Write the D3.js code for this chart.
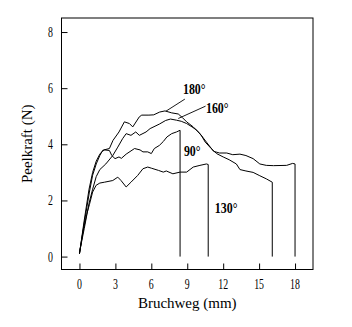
<!DOCTYPE html>
<html><head><meta charset="utf-8">
<script src="https://cdn.jsdelivr.net/npm/d3@7"></script>
<style>body{margin:0;background:#fff}svg{display:block}</style>
</head><body><svg id="c" width="352" height="327"></svg>
<script>
const xTicks = [0,3,6,9,12,15,18];
const yTicks = [0,2,4,6,8];
const xTitle = "Bruchweg (mm)";
const yTitle = "Peelkraft (N)";
const seriesNames = ["180°","160°","90°","130°"];
const s180 = [[0,0.1],[0.4,1.2],[0.83,2.3],[1.1,2.9],[1.4,3.3],[1.7,3.6],[1.95,3.79],[2.5,3.85],[2.8,4.14],[3.3,4.44],[3.75,4.8],[4.17,4.74],[4.45,4.62],[5.0,4.98],[5.2,5.04],[5.8,5.04],[6.2,5.05],[6.7,5.15],[7.14,5.19],[7.7,5.12],[8.25,5.08],[8.6,4.95],[8.95,4.8],[9.5,4.62],[10.06,4.38],[10.6,4.08],[11.2,3.75],[11.7,3.69],[12.3,3.69],[12.8,3.63],[13.4,3.65],[13.9,3.6],[14.5,3.49],[15.06,3.3],[15.6,3.25],[16.2,3.24],[17.3,3.25],[17.8,3.32],[18.0,3.3],[18.0,0]];
const s160 = [[0,0.15],[0.4,1.0],[0.8,1.9],[1.1,2.4],[1.4,2.85],[1.7,3.1],[2.2,3.3],[2.78,3.6],[3.2,3.9],[3.6,4.2],[3.9,4.38],[4.3,4.32],[4.7,4.44],[5.0,4.32],[5.56,4.44],[5.9,4.56],[6.67,4.72],[7.2,4.85],[7.6,4.9],[8.1,4.86],[8.5,4.82],[8.95,4.74],[9.4,4.62],[9.8,4.5],[10.2,4.3],[10.5,4.08],[11.0,3.85],[11.45,3.67],[12.0,3.55],[12.5,3.45],[13.1,3.3],[13.4,3.1],[13.9,3.05],[14.5,3.0],[15.06,2.88],[15.6,2.77],[16.1,2.65],[16.1,0]];
const s90 = [[0,0.1],[0.4,1.3],[0.8,2.4],[1.1,3.0],[1.4,3.4],[1.7,3.65],[1.9,3.75],[2.1,3.8],[2.5,3.78],[2.7,3.6],[2.97,3.49],[3.3,3.55],[3.5,3.5],[3.9,3.65],[4.6,3.85],[5.06,3.8],[5.3,3.73],[5.7,3.73],[6.0,3.67],[6.25,3.85],[6.67,3.96],[7.0,4.1],[7.3,4.26],[7.7,4.38],[8.1,4.44],[8.4,4.5],[8.4,0]];
const s130 = [[0,0.1],[0.3,0.9],[0.6,1.5],[0.83,1.85],[1.1,2.3],[1.39,2.54],[1.7,2.62],[2.08,2.65],[2.78,2.71],[3.2,2.83],[3.47,2.71],[3.9,2.48],[4.3,2.65],[4.86,2.89],[5.3,3.13],[5.7,3.19],[6.0,3.15],[6.6,3.07],[7.0,3.01],[7.25,3.05],[7.8,2.95],[8.4,3.01],[8.95,3.01],[9.5,3.19],[10.06,3.25],[10.6,3.3],[10.75,3.28],[10.75,0]];
const seriesData = [s180, s160, s90, s130];

const svg = d3.select("#c");
const L = 61.5, R = 313, T = 18, B = 269.5;
const x = d3.scaleLinear().domain([-1.5,19.5]).range([L,R]);
const y = d3.scaleLinear().domain([-0.46,8.5]).range([B,T]);

const serif = "'Liberation Serif','Times New Roman',serif";

svg.append("rect").attr("x",L).attr("y",T).attr("width",R-L).attr("height",B-T)
  .attr("fill","none").attr("stroke","#000").attr("stroke-width",1);

const gx = svg.append("g").attr("transform",`translate(0,${B})`)
  .call(d3.axisBottom(x).tickValues(xTicks).tickSize(-6).tickFormat(d=>d));
gx.select(".domain").remove();
gx.selectAll("line").attr("stroke","#000");
gx.selectAll("text").remove();
const gy = svg.append("g").attr("transform",`translate(${L},0)`)
  .call(d3.axisLeft(y).tickValues(yTicks).tickSize(-6).tickFormat(d=>d));
gy.select(".domain").remove();
gy.selectAll("line").attr("stroke","#000");
gy.selectAll("text").remove();

xTicks.forEach(v=>{
  svg.append("text").attr("transform",`translate(${x(v)},288.5) scale(0.68,1)`)
    .attr("text-anchor","middle").attr("font-family",serif).attr("font-size",14.5).text(v);
});
yTicks.forEach(v=>{
  svg.append("text").attr("transform",`translate(53,${y(v)+5}) scale(0.68,1)`)
    .attr("text-anchor","end").attr("font-family",serif).attr("font-size",14.5).text(v);
});

svg.append("text").attr("x",(L+R)/2).attr("y",307.5).attr("text-anchor","middle")
  .attr("font-family",serif).attr("font-size",15).text(xTitle);
svg.append("text").attr("transform",`translate(31.5,${(T+B)/2}) rotate(-90)`).attr("text-anchor","middle")
  .attr("font-family",serif).attr("font-size",15).text(yTitle);

const line = d3.line().x(d=>x(d[0])).y(d=>y(d[1]));
seriesData.forEach(s=>{
  svg.append("path").attr("d",line(s)).attr("fill","none").attr("stroke","#000").attr("stroke-width",1)
    .attr("stroke-linejoin","round");
});

const labelPos = [[8.64,5.79],[10.56,5.11],[8.72,3.58],[11.3,1.55]];
seriesNames.forEach((n,i)=>{
  svg.append("text").attr("transform",`translate(${x(labelPos[i][0])},${y(labelPos[i][1])}) scale(0.85,1)`)
    .attr("font-family",serif).attr("font-weight","bold").attr("font-size",14).text(n);
});
const leaders = [[[8.8,5.61],[7.22,5.18]],[[10.53,5.36],[8.25,4.92]]];
leaders.forEach(l=>{
  svg.append("line").attr("x1",x(l[0][0])).attr("y1",y(l[0][1])).attr("x2",x(l[1][0])).attr("y2",y(l[1][1]))
    .attr("stroke","#000").attr("stroke-width",0.9);
});
</script></body></html>
